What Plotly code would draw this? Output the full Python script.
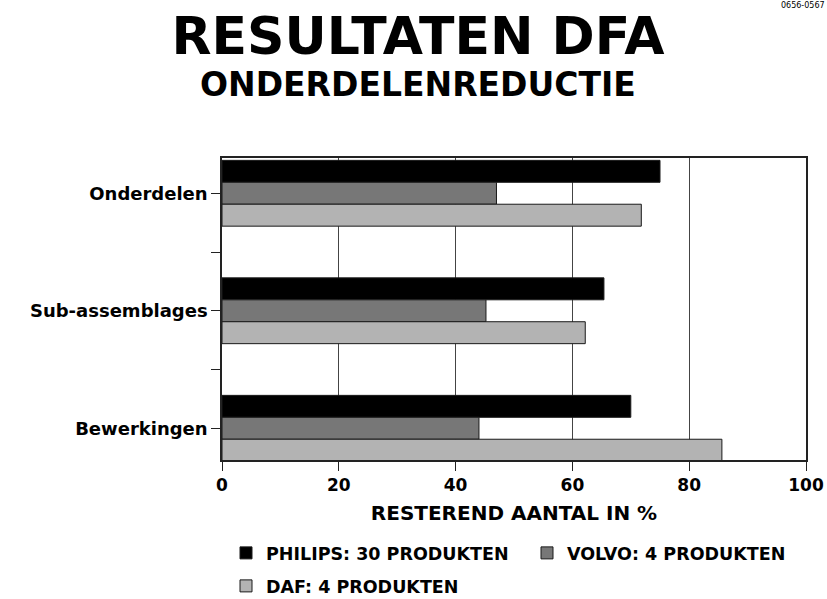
import plotly.graph_objects as go

categories = ["Onderdelen", "Sub-assemblages", "Bewerkingen"]
cat_pos = [0, 1, 2]
series_names = ["PHILIPS: 30 PRODUKTEN", "VOLVO: 4 PRODUKTEN", "DAF: 4 PRODUKTEN"]
philips = [75, 65.4, 70]
volvo = [47, 45.2, 44]
daf = [71.8, 62.2, 85.6]
colors = ["#000000", "#777777", "#b3b3b3"]
x_ticks = [0, 20, 40, 60, 80, 100]

FONT = "DejaVu Sans"
W, H = 827, 599
ML, MR, MT, MB = 222, 21, 158, 139
plot_w = W - ML - MR
plot_h = H - MT - MB

def px_to_paper_x(px):
    return (px - ML) / plot_w

def px_to_paper_y(py):
    return (H - MB - py) / plot_h

legend_ids = ["legend", "legend2", "legend3"]
# legend anchor positions in page pixels (box left x, row centre y)
legend_spots = [(226, 553), (527, 553), (226, 586)]

fig = go.Figure()
for name, vals, col, lid in zip(series_names, [philips, volvo, daf], colors, legend_ids):
    fig.add_trace(go.Bar(
        y=cat_pos, x=vals, name=name, orientation="h", legend=lid,
        marker=dict(color=col, line=dict(color="#1a1a1a", width=1)),
    ))

legend_style = dict(orientation="h", xanchor="left", yanchor="middle",
                    font=dict(size=17.5, family=FONT, color="#000", weight="bold"),
                    itemclick=False, itemdoubleclick=False, bgcolor="rgba(0,0,0,0)")

layout_legends = {}
for lid, (lx, ly) in zip(legend_ids, legend_spots):
    layout_legends[lid] = dict(x=px_to_paper_x(lx), y=px_to_paper_y(ly), **legend_style)

fig.update_layout(
    width=W, height=H,
    margin=dict(l=ML, r=MR, t=MT, b=MB, autoexpand=False),
    paper_bgcolor="white", plot_bgcolor="white",
    barmode="group", bargap=0.44, bargroupgap=0,
    font=dict(family=FONT, color="#000"),
    title=dict(text="<b>RESULTATEN DFA</b>", x=418 / W, xref="container", xanchor="center",
               y=1 - 36 / H, yref="container", yanchor="middle",
               font=dict(size=52, family=FONT, color="#000")),
    showlegend=True,
    **layout_legends,
)

fig.update_xaxes(
    range=[0, 100], tickvals=x_ticks, ticks="outside", ticklen=9, tickcolor="#222",
    tickfont=dict(size=17, family=FONT, weight="bold"),
    showgrid=True, gridcolor="#444", gridwidth=1,
    showline=True, linecolor="#222", linewidth=1.5, mirror=True,
    zeroline=False, automargin=False,
    title=dict(text="<b>RESTEREND AANTAL IN %</b>", font=dict(size=20, family=FONT), standoff=12),
)
fig.update_yaxes(
    range=[2.27, -0.30], tickvals=cat_pos, ticktext=categories, ticks="outside", ticklen=9,
    tickcolor="#222", tickfont=dict(size=18, family=FONT, weight="bold"),
    minor=dict(tickvals=[0.5, 1.5], ticks="outside", ticklen=9, tickcolor="#222"),
    showgrid=False, showline=True, linecolor="#222", linewidth=1.5, mirror=True,
    zeroline=False, automargin=False,
)

fig.add_annotation(text="<b>ONDERDELENREDUCTIE</b>", x=px_to_paper_x(418), xref="paper",
                   xanchor="center", y=px_to_paper_y(84), yref="paper", yanchor="middle",
                   showarrow=False, font=dict(size=33, family=FONT, color="#000"))
fig.add_annotation(text="0656-0567", x=px_to_paper_x(826), xref="paper", xanchor="right",
                   y=px_to_paper_y(0), yref="paper", yanchor="top", showarrow=False,
                   font=dict(size=8, family=FONT, color="#000"), borderpad=0)

fig.write_html("out.html", config={"displayModeBar": False},
               post_script="document.body.style.margin='0';document.body.style.overflow='hidden';")
